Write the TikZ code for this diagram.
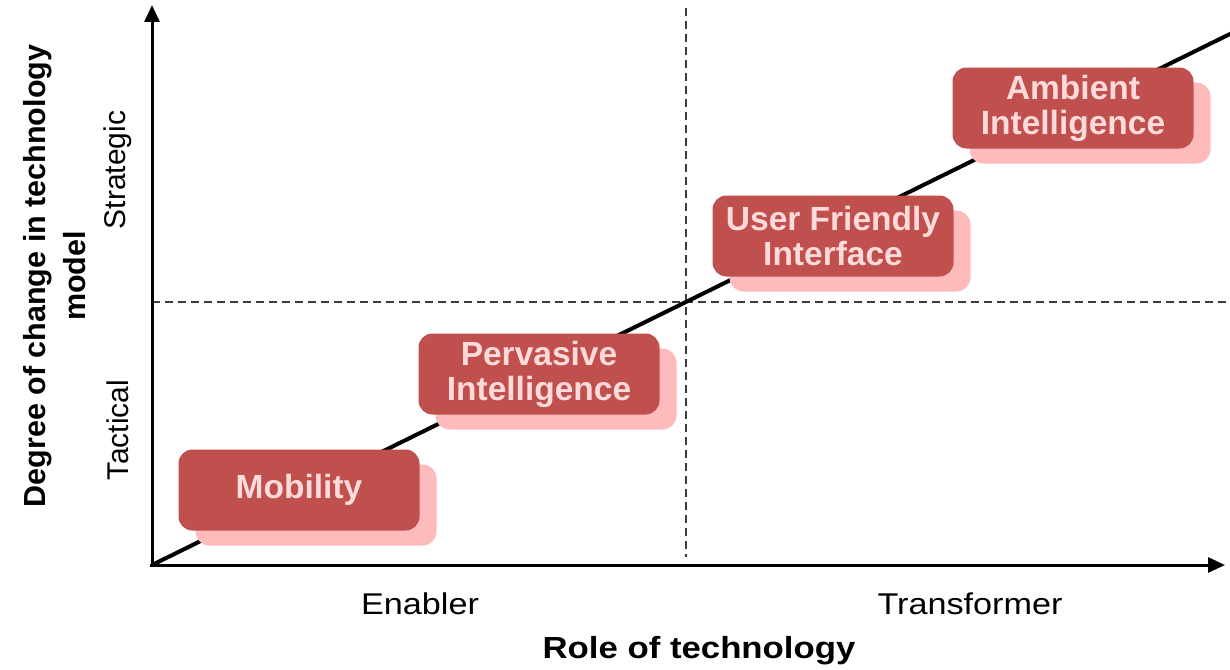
\documentclass[tikz,border=0pt]{standalone}
\usepackage{fontspec}
\setmainfont{Liberation Sans}
\usetikzlibrary{arrows.meta}
\definecolor{boxred}{RGB}{192,80,77}
\definecolor{boxshadow}{RGB}{255,187,187}
\definecolor{boxtext}{RGB}{255,218,218}
\definecolor{guidegray}{RGB}{60,60,60}
\newcommand{\wide}[1]{\scalebox{1.14}[1]{#1}}
\begin{document}
\begin{tikzpicture}[x=1pt,y=-1pt,
  frontbox/.style={fill=boxred, rounded corners=14pt, minimum width=241pt, minimum height=81pt, inner sep=0pt, text=boxtext, font=\fontsize{33.5}{35}\selectfont\bfseries, align=center},
  backbox/.style={fill=boxshadow, rounded corners=14pt, minimum width=241pt, minimum height=81pt, inner sep=0pt},
  axisline/.style={line width=3pt, -{Triangle[length=17pt,width=15pt]}},
  guide/.style={line width=1.2pt, guidegray, dash pattern=on 8pt off 5pt},
  trend/.style={line width=4pt},
  axislabel/.style={font=\fontsize{30}{34}\selectfont},
  axistitle/.style={font=\fontsize{30.5}{40}\selectfont\bfseries, align=center}
]
\useasboundingbox (0,0) rectangle (1230,669);
% coordinates
\coordinate (O) at (152,565);
\coordinate (xend) at (1225,565);
\coordinate (yend) at (152,5);
\coordinate (trendend) at (1232,33);
\coordinate (vtop) at (686,8);
\coordinate (vbot) at (686,557);
\coordinate (hleft) at (152,302);
\coordinate (hright) at (1230,302);
% guides
\draw[guide] (vtop) -- (vbot);
\draw[guide] (hleft) -- (hright);
% trend line
\draw[trend] (O) -- (trendend);
% axes
\draw[axisline] (O) -- (yend);
\draw[axisline] (150,565) -- (xend);
% boxes
\node[backbox] (mobB) at (316,505) {};
\node[frontbox] (mob) at (299,490) {Mobility};
\node[backbox] (pervB) at (556,389) {};
\node[frontbox] (perv) at (539,374) {Pervasive\\Intelligence};
\node[backbox] (userB) at (850,251) {};
\node[frontbox] (user) at (833,236) {User Friendly\\Interface};
\node[backbox] (ambB) at (1090,123) {};
\node[frontbox] (amb) at (1073,108) {Ambient\\Intelligence};
% labels
\node[axislabel] (enab) at (420,604) {\wide{Enabler}};
\node[axislabel] (trans) at (970,604) {\wide{Transformer}};
\node[axistitle] (role) at (699,651) {\wide{Role of technology}};
\node[axislabel, rotate=90] (strat) at (118,170) {Strategic};
\node[axislabel, rotate=90] (tact) at (118,430) {Tactical};
\node[axistitle, rotate=90] (degree) at (55,276) {Degree of change in technology\\model};
\end{tikzpicture}
\end{document}
